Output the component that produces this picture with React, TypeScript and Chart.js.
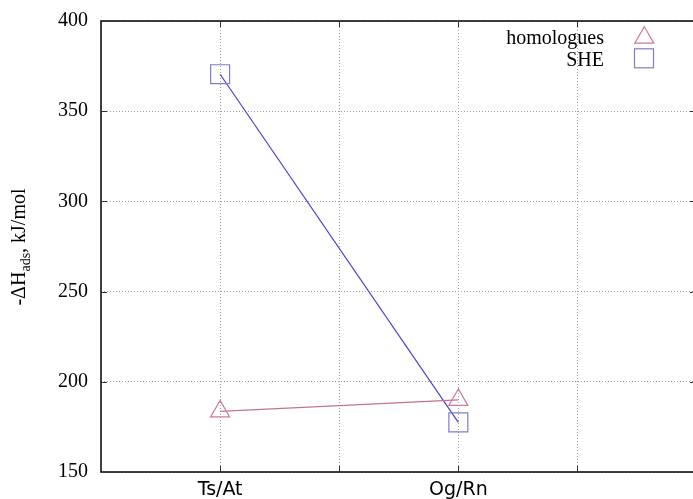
import React, { useEffect, useRef } from 'react';
import { Chart, registerables } from 'chart.js';

Chart.register(...registerables);

// ---- data ----
const xTickLabels = ['', 'Ts/At', '', 'Og/Rn', '', ''];
const categories = ['Ts/At', 'Og/Rn'];
const homologues = [183.6, 190];
const she = [370.5, 177.5];
const yTicks = [150, 200, 250, 300, 350, 400];
const xGridTicks = [1, 2, 3, 4];
const seriesNames = ['homologues', 'SHE'];

const HOMO_LINE = 'rgb(195,115,145)';
const HOMO_PT = 'rgb(200,125,155)';
const SHE_LINE = 'rgb(70,70,205)';
const SHE_PT = 'rgb(125,125,200)';

const SERIF = '"Liberation Serif", "Times New Roman", serif';

const deco = {
  id: 'deco',
  afterDraw(chart: any) {
    const ctx = chart.ctx as CanvasRenderingContext2D;
    const { left, right, top, bottom } = chart.chartArea;
    const xs = chart.scales.x;
    const ys = chart.scales.y;
    ctx.save();
    // frame
    ctx.strokeStyle = '#000';
    ctx.lineWidth = 1.5;
    ctx.beginPath();
    ctx.moveTo(right + 5, top);
    ctx.lineTo(left, top);
    ctx.lineTo(left, bottom);
    ctx.lineTo(right + 5, bottom);
    ctx.stroke();
    // inward ticks
    ctx.lineWidth = 1;
    ctx.strokeStyle = '#333';
    ctx.beginPath();
    yTicks.slice(1, -1).forEach((v) => {
      const py = Math.round(ys.getPixelForValue(v)) + 0.5;
      ctx.moveTo(left, py);
      ctx.lineTo(left + 6, py);
      ctx.moveTo(right - 3, py);
      ctx.lineTo(right, py);
    });
    xGridTicks.forEach((v) => {
      const px = Math.round(xs.getPixelForValue(v)) + 0.5;
      ctx.moveTo(px, bottom);
      ctx.lineTo(px, bottom - 6);
      ctx.moveTo(px, top);
      ctx.lineTo(px, top + 6);
    });
    ctx.stroke();

    // y axis title with subscript
    ctx.fillStyle = '#000';
    ctx.translate(25, (top + bottom) / 2 + 0.5);
    ctx.rotate(-Math.PI / 2);
    ctx.textBaseline = 'alphabetic';
    ctx.textAlign = 'left';
    const mainFont = '20px ' + SERIF;
    const subFont = '14px ' + SERIF;
    const p1 = '-\u0394H';
    const p2 = 'ads';
    const p3 = ', kJ/mol';
    ctx.font = mainFont;
    const w1 = ctx.measureText(p1).width;
    const w3 = ctx.measureText(p3).width;
    ctx.font = subFont;
    const w2 = ctx.measureText(p2).width;
    const total = w1 + w2 + w3;
    let x0 = -total / 2;
    ctx.font = mainFont;
    ctx.fillText(p1, x0, 0);
    x0 += w1;
    ctx.font = subFont;
    ctx.fillText(p2, x0, 5);
    x0 += w2;
    ctx.font = mainFont;
    ctx.fillText(p3, x0, 0);
    ctx.restore();

    // legend (gnuplot style: right-aligned text then symbol)
    ctx.save();
    ctx.font = '20px ' + SERIF;
    ctx.fillStyle = '#000';
    ctx.textAlign = 'right';
    ctx.textBaseline = 'alphabetic';
    ctx.fillText(seriesNames[0], 604, 44);
    ctx.fillText(seriesNames[1], 604, 66);
    ctx.lineWidth = 1.2;
    const tcx = 644.3, tcy = 37.7, r = 11;
    ctx.strokeStyle = HOMO_PT;
    ctx.beginPath();
    ctx.moveTo(tcx, tcy - r);
    ctx.lineTo(tcx + r * 0.866, tcy + r * 0.5);
    ctx.lineTo(tcx - r * 0.866, tcy + r * 0.5);
    ctx.closePath();
    ctx.stroke();
    ctx.strokeStyle = SHE_PT;
    ctx.strokeRect(634.5, 48.8, 19, 19);
    ctx.restore();
  },
};

export default function App() {
  const ref = useRef<HTMLCanvasElement | null>(null);
  useEffect(() => {
    if (!ref.current) return;
    const toPts = (vals: number[]) =>
      categories.map((c, i) => ({ x: xTickLabels.indexOf(c), y: vals[i] }));
    const chart = new Chart(ref.current, {
      type: 'line',
      data: {
        datasets: [
          {
            label: seriesNames[0],
            data: toPts(homologues),
            borderColor: HOMO_LINE,
            borderWidth: 1.2,
            pointStyle: 'triangle',
            pointRadius: 11,
            pointBorderColor: HOMO_PT,
            pointBackgroundColor: 'rgba(0,0,0,0)',
            pointBorderWidth: 1.2,
            fill: false,
            tension: 0,
          },
          {
            label: seriesNames[1],
            data: toPts(she),
            borderColor: SHE_LINE,
            borderWidth: 1.2,
            pointStyle: 'rect',
            pointRadius: 13.4,
            pointBorderColor: SHE_PT,
            pointBackgroundColor: 'rgba(0,0,0,0)',
            pointBorderWidth: 1.2,
            fill: false,
            tension: 0,
          },
        ],
      },
      options: {
        responsive: false,
        animation: false,
        layout: { autoPadding: false, padding: { top: 21, left: 0, right: 0, bottom: 0 } },
        plugins: {
          legend: { display: false },
          tooltip: { enabled: false },
          title: { display: false },
        },
        scales: {
          x: {
            type: 'linear',
            min: 0,
            max: 4.97,
            afterBuildTicks: (s: any) => {
              s.ticks = xGridTicks.map((v) => ({ value: v }));
            },
            afterFit: (s: any) => {
              s.height = 27;
              s.paddingLeft = 0;
              s.paddingRight = 0;
              s.paddingTop = 0;
              s.paddingBottom = 0;
            },
            ticks: {
              autoSkip: false,
              maxRotation: 0,
              padding: 7,
              color: '#000',
              font: { family: '"DejaVu Sans", sans-serif', size: 19 },
              callback: (v: any) => xTickLabels[v as number] ?? '',
            },
            grid: { color: '#a0a0a0', lineWidth: 1, drawTicks: false },
            border: { display: false, dash: [1, 2] },
          },
          y: {
            type: 'linear',
            min: 150,
            max: 400,
            afterBuildTicks: (s: any) => {
              s.ticks = yTicks.map((v) => ({ value: v }));
            },
            afterFit: (s: any) => {
              s.width = 101;
              s.paddingLeft = 0;
              s.paddingRight = 0;
              s.paddingTop = 0;
              s.paddingBottom = 0;
            },
            ticks: {
              padding: 13,
              color: '#000',
              font: { family: SERIF, size: 20 },
            },
            grid: { color: '#a0a0a0', lineWidth: 1, drawTicks: false },
            border: { display: false, dash: [1, 2] },
          },
        },
      },
      plugins: [deco],
    });
    return () => chart.destroy();
  }, []);
  return (
    <div style={{ position: 'fixed', left: 0, top: 0, width: 693, height: 499, background: '#fff' }}>
      <canvas ref={ref} width={693} height={499} style={{ display: 'block' }} />
    </div>
  );
}
